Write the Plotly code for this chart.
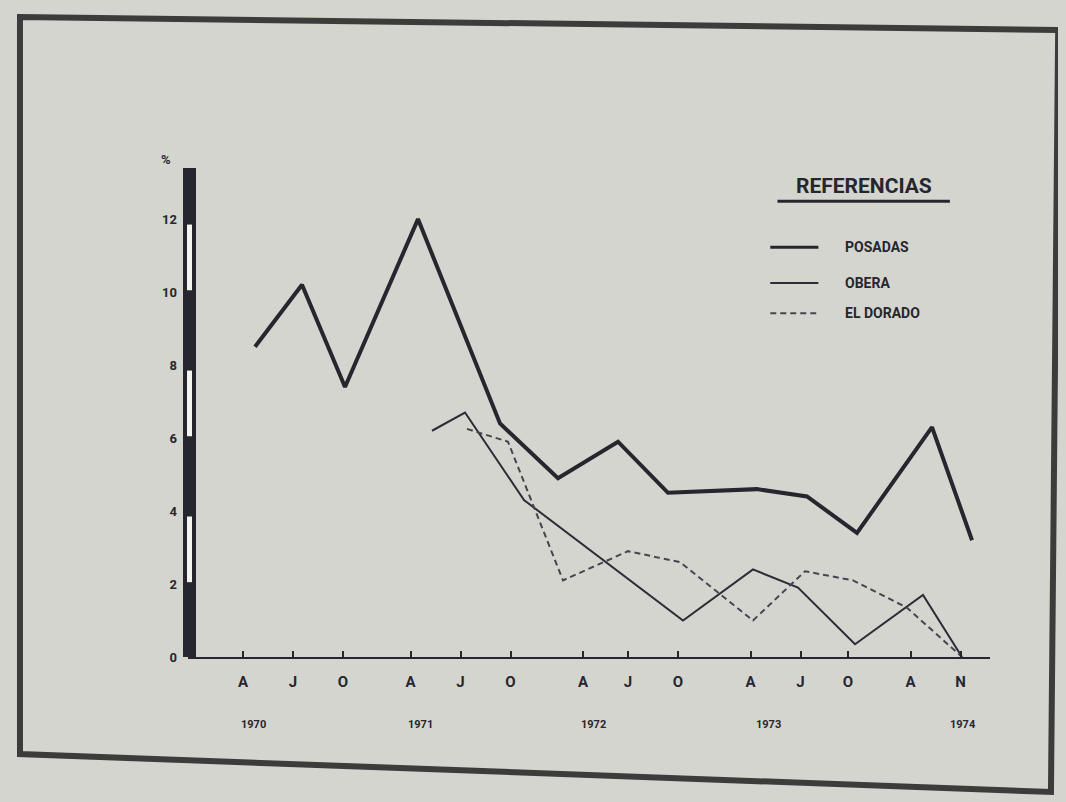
import plotly.graph_objects as go

# ---- data ----
tick_labels = ["A", "J", "O", "A", "J", "O", "A", "J", "O", "A", "J", "O", "A", "N"]
tick_pos = [0, 1, 2, 3.35, 4.35, 5.35, 6.8, 7.7, 8.7, 10.15, 11.15, 12.1, 13.35, 14.35]
year_labels = ["1970", "1971", "1972", "1973", "1974"]
year_pos = [0.2, 3.55, 7.0, 10.5, 14.4]
y_ticks = [0, 2, 4, 6, 8, 10, 12]

posadas_x = [0.24, 1.18, 2.04, 3.5, 5.14, 6.3, 7.5, 8.5, 10.28, 11.28, 12.28, 13.78, 14.58]
posadas_y = [8.5, 10.2, 7.4, 12.0, 6.4, 4.9, 5.9, 4.5, 4.6, 4.4, 3.4, 6.3, 3.2]
obera_x = [3.78, 4.44, 5.62, 8.8, 10.2, 11.1, 12.24, 13.6, 14.38]
obera_y = [6.2, 6.7, 4.3, 1.0, 2.4, 1.9, 0.35, 1.7, 0.0]
eldorado_x = [4.48, 5.3, 6.4, 7.7, 8.74, 10.2, 11.24, 12.2, 13.28, 14.38]
eldorado_y = [6.25, 5.9, 2.1, 2.9, 2.6, 1.0, 2.35, 2.1, 1.35, 0.0]

series_names = ["POSADAS", "OBERA", "EL DORADO"]

# ---- styles ----
BG = "#d5d5cf"
INK = "#26262f"
FONT = "Liberation Sans Narrow, Arial Narrow, Roboto, sans-serif"
styles = [
    dict(color=INK, width=4, dash="solid"),
    dict(color="#2c2c38", width=2, dash="solid"),
    dict(color="#45454f", width=2, dash="6px,4px"),
]

fig = go.Figure()
for name, xs, ys, st in zip(series_names,
                            [posadas_x, obera_x, eldorado_x],
                            [posadas_y, obera_y, eldorado_y], styles):
    fig.add_trace(go.Scatter(x=xs, y=ys, mode="lines", name=name,
                             line=st, showlegend=False, cliponaxis=False))

YMAX = 13.4
shapes = []
# outer photographed frame
shapes.append(dict(type="path", xref="paper", yref="paper",
                   path="M -0.2095 1.3088 L 1.0850 1.2822 L 1.0760 -0.2761 L -0.2095 -0.1984 Z",
                   line=dict(color="#3c3c3c", width=6), fillcolor="rgba(0,0,0,0)", layer="below"))
# y axis bar (black with white stripes)
shapes.append(dict(type="rect", xref="paper", yref="y", xsizemode="pixel", xanchor=0,
                   x0=-5, x1=8, y0=0, y1=YMAX, fillcolor=INK, line=dict(width=0)))
for t in [y_ticks[1], y_ticks[3], y_ticks[5]]:
    shapes.append(dict(type="rect", xref="paper", yref="y", xsizemode="pixel", xanchor=0,
                       x0=-1, x1=4, y0=t + 0.05, y1=t + 1.85, fillcolor="#f4f4f0",
                       line=dict(width=0)))

annotations = []
# % label
annotations.append(dict(text="<b>%</b>", xref="paper", yref="paper", x=-0.028, y=1.017,
                        xanchor="center", yanchor="middle", showarrow=False,
                        font=dict(family=FONT, size=13, color=INK)))
# year labels
for yl, yp in zip(year_labels, year_pos):
    annotations.append(dict(text="<b>" + yl + "</b>", xref="x", yref="paper", x=yp, y=-0.139,
                            xanchor="center", yanchor="middle", showarrow=False,
                            font=dict(family=FONT, size=11, color=INK)))

# legend block
annotations.append(dict(text="<b>REFERENCIAS</b>", xref="paper", yref="paper", x=0.843, y=0.963,
                        xanchor="center", yanchor="middle", showarrow=False,
                        font=dict(family=FONT, size=21, color=INK)))
shapes.append(dict(type="line", xref="paper", yref="paper", x0=0.735, x1=0.950, y0=0.932, y1=0.932,
                   line=dict(color=INK, width=3)))
leg_y = [0.838, 0.765, 0.703]
for name, st, ly in zip(series_names, styles, leg_y):
    shapes.append(dict(type="line", xref="paper", yref="paper", x0=0.726, x1=0.786, y0=ly, y1=ly,
                       line=dict(color=st["color"], width=min(st["width"], 3), dash=st["dash"])))
    annotations.append(dict(text="<b>" + name + "</b>", xref="paper", yref="paper", x=0.817, y=ly,
                            xanchor="left", yanchor="middle", showarrow=False,
                            font=dict(family=FONT, size=14, color=INK)))

# page body has an 8px margin, so the figure is 8px smaller and margins shifted
fig.update_layout(
    width=1058, height=794,
    margin=dict(l=180, r=76, t=160, b=145),
    paper_bgcolor=BG, plot_bgcolor=BG,
    shapes=shapes, annotations=annotations,
    xaxis=dict(range=[-1.1, 14.94], tickmode="array", tickvals=tick_pos,
               ticktext=["<b>" + t + "</b>" for t in tick_labels],
               showgrid=False, zeroline=False, showline=True, linecolor=INK, linewidth=2,
               ticks="inside", ticklen=6, tickwidth=2, tickcolor=INK,
               ticklabelstandoff=10,
               tickfont=dict(family=FONT, size=15, color=INK)),
    yaxis=dict(range=[0, YMAX], tickmode="array", tickvals=y_ticks,
               ticktext=["<b>" + str(v) + "</b>" for v in y_ticks],
               showgrid=False, zeroline=False, showline=False, ticks="",
               ticklabelstandoff=10,
               tickfont=dict(family=FONT, size=13, color=INK)),
)

fig.write_html("out.html", config={"displayModeBar": False},
               post_script="document.body.style.background='%s';" % BG)
